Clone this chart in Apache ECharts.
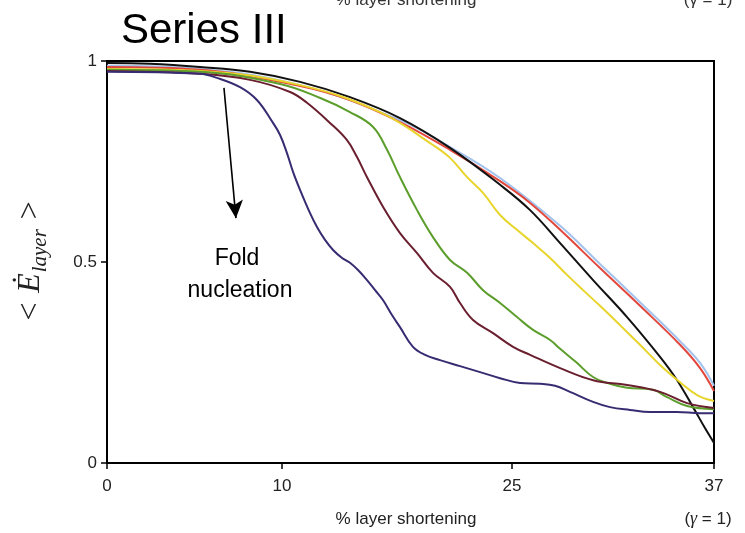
<!DOCTYPE html>
<html>
<head>
<meta charset="utf-8">
<script src="https://cdn.jsdelivr.net/npm/echarts@6/dist/echarts.min.js"></script>
<style>html,body{margin:0;padding:0;background:#fff}#c{width:745px;height:533px}</style>
</head>
<body>
<div id="c"></div>
<script>
// x is position along the axis (0..37 scale), y is <E_layer>
const xTickAt = [0, 10.67, 24.69, 37];
const xTickLabels = ['0', '10', '25', '37'];
const yTickLabels = ['0', '0.5', '1'];

const seriesNames = ['blue', 'red', 'black', 'yellow', 'green', 'maroon', 'purple'];

const blueData = [[0,0.988],[5.67,0.980],[11.77,0.940],[17.86,0.853],[20.91,0.786],[23.96,0.709],[27.62,0.590],[30.05,0.495],[32.49,0.400],[34.93,0.303],[36.15,0.249],[37,0.192]];
const redData = [[0,0.985],[5.67,0.978],[11.77,0.938],[14.81,0.903],[17.86,0.848],[20.91,0.779],[23.96,0.701],[25.79,0.647],[27.62,0.580],[30.05,0.485],[32.49,0.391],[34.93,0.294],[36.15,0.236],[37,0.179]];
const blackData = [[0,0.995],[2.62,0.993],[5.67,0.985],[8.72,0.973],[11.77,0.948],[14.81,0.910],[17.86,0.858],[20.91,0.784],[23.96,0.692],[25.79,0.629],[27.62,0.547],[29.63,0.455],[31.70,0.363],[33.71,0.264],[34.75,0.206],[35.72,0.139],[36.45,0.087],[37,0.050]];
const yellowData = [[0,0.980],[5.67,0.975],[11.77,0.940],[16.64,0.873],[19.87,0.791],[20.91,0.759],[21.95,0.711],[22.92,0.672],[23.96,0.617],[24.99,0.580],[25.97,0.547],[27.01,0.510],[28.04,0.468],[29.02,0.430],[30.05,0.391],[31.27,0.343],[32.49,0.294],[33.71,0.244],[34.93,0.201],[35.97,0.169],[37,0.154]];
const greenData = [[0,0.978],[5.67,0.973],[10.55,0.943],[13.0,0.908],[14.81,0.873],[16.22,0.836],[17.07,0.779],[17.86,0.711],[18.90,0.629],[19.87,0.562],[20.91,0.505],[21.95,0.473],[22.92,0.430],[23.96,0.398],[24.99,0.363],[25.97,0.331],[27.01,0.306],[27.62,0.284],[28.59,0.251],[29.63,0.214],[30.66,0.197],[31.70,0.187],[33.28,0.182],[34.14,0.164],[35.36,0.142],[37,0.134]];
const maroonData = [[0,0.975],[5.67,0.968],[8.72,0.953],[11.16,0.923],[12.19,0.896],[13.59,0.846],[14.63,0.803],[15.24,0.761],[15.85,0.711],[16.83,0.637],[17.86,0.572],[18.90,0.522],[19.87,0.473],[20.91,0.438],[21.52,0.398],[22.31,0.356],[23.53,0.323],[24.75,0.289],[25.79,0.269],[27.62,0.236],[29.63,0.206],[31.70,0.194],[33.71,0.177],[35.36,0.149],[37,0.137]];
const purpleData = [[0,0.973],[5.67,0.968],[6.71,0.958],[8.11,0.935],[9.14,0.903],[10.12,0.846],[10.55,0.816],[10.97,0.771],[11.34,0.724],[11.77,0.679],[12.37,0.622],[12.80,0.587],[13.29,0.555],[13.78,0.530],[14.33,0.510],[14.81,0.498],[15.30,0.480],[15.85,0.455],[16.34,0.430],[16.83,0.405],[17.37,0.368],[17.86,0.338],[18.65,0.289],[19.39,0.269],[20.30,0.256],[21.52,0.241],[22.74,0.226],[23.96,0.211],[25.18,0.199],[26.40,0.197],[27.31,0.192],[28.22,0.177],[29.63,0.152],[30.66,0.139],[31.88,0.132],[33.10,0.127],[34.75,0.127],[36.15,0.124],[37,0.124]];

const arrowFrom = [7.13, 0.933];
const arrowTo = [7.86, 0.609];

const colors = {blue:'#a3c2ec', red:'#e2473c', black:'#111111', yellow:'#e8d52c', green:'#5c9e2c', maroon:'#6a1f2f', purple:'#372c72'};
const dataMap = {blue:blueData, red:redData, black:blackData, yellow:yellowData, green:greenData, maroon:maroonData, purple:purpleData};

const chart = echarts.init(document.getElementById('c'));
const sans = '"Liberation Sans", Arial, sans-serif';
const serif = '"Liberation Serif", "Times New Roman", serif';

function nearestLabel(v){
  let best = 0, d = 1e9;
  xTickAt.forEach((t,i)=>{ if (Math.abs(t-v) < d){ d = Math.abs(t-v); best = i; } });
  return d < 0.01 ? xTickLabels[best] : '';
}

const series = seriesNames.map(n => ({
  name: n, type: 'line', data: dataMap[n], smooth: 0.4, symbol: 'none',
  lineStyle: {color: colors[n], width: 2}, z: 3
}));
series.push({
  type: 'line', data: [], markLine: {
    silent: true, symbol: ['none', 'arrow'], symbolSize: [13, 18],
    lineStyle: {color: '#000', width: 1.6, type: 'solid'}, label: {show: false},
    data: [[{coord: arrowFrom}, {coord: arrowTo}]]
  }
});

chart.setOption({
  animation: false,
  backgroundColor: '#fff',
  grid: {left: 107, right: 31, top: 61, bottom: 70, show: true, borderColor: '#000', borderWidth: 2, backgroundColor: 'transparent'},
  xAxis: {
    type: 'value', min: 0, max: 37,
    axisLine: {show: true, lineStyle: {color: '#000', width: 2}},
    axisTick: {show: true, customValues: xTickAt, length: 6, lineStyle: {color: '#000', width: 1.5}},
    axisLabel: {customValues: xTickAt, formatter: v => nearestLabel(v), color: '#222', fontSize: 17, fontFamily: sans, margin: 15},
    splitLine: {show: false}
  },
  yAxis: {
    type: 'value', min: 0, max: 1, interval: 0.5,
    axisLine: {show: true, lineStyle: {color: '#000', width: 2}},
    axisTick: {show: true, length: 6, lineStyle: {color: '#000', width: 1.5}},
    axisLabel: {formatter: v => yTickLabels[Math.round(v * 2)], color: '#222', fontSize: 17, fontFamily: sans, margin: 10},
    splitLine: {show: false}
  },
  series: series,
  graphic: [
    {type: 'text', left: 121, top: 10, style: {text: 'Series III', fontSize: 42, fontFamily: sans, fill: '#000'}},
    {type: 'text', x: 406, y: 0, style: {text: '% layer shortening', fontSize: 17, fontFamily: sans, fill: '#333', align: 'center', verticalAlign: 'middle'}},
    {type: 'text', x: 708, y: 0, style: {text: '(γ = 1)', fontSize: 17, fontFamily: sans, fill: '#333', align: 'center', verticalAlign: 'middle'}},
    {type: 'text', x: 406, y: 519, style: {text: '% layer shortening', fontSize: 17, fontFamily: sans, fill: '#222', align: 'center', verticalAlign: 'middle'}},
    {type: 'text', x: 708, y: 519, style: {text: '{p|(}{g|γ}{p| = 1)}', fontSize: 17, fontFamily: sans, fill: '#222', align: 'center', verticalAlign: 'middle',
      rich: {p: {fontSize: 17, fontFamily: sans, fill: '#222'}, g: {fontSize: 18, fontFamily: serif, fontStyle: 'italic', fill: '#222'}}}},
    {type: 'text', x: 237, y: 259, style: {text: 'Fold', fontSize: 23, fontFamily: sans, fill: '#000', align: 'center', verticalAlign: 'middle'}},
    {type: 'text', x: 240, y: 291, style: {text: 'nucleation', fontSize: 23, fontFamily: sans, fill: '#000', align: 'center', verticalAlign: 'middle'}},
    {type: 'text', x: 32, y: 261, rotation: Math.PI / 2, style: {
      text: '{m|< Ė}{s|layer}{m| >}', align: 'center', verticalAlign: 'middle', fill: '#222',
      rich: {
        m: {fontSize: 32, fontFamily: serif, fontStyle: 'italic', fill: '#222', lineHeight: 34, verticalAlign: 'top'},
        s: {fontSize: 21, fontFamily: serif, fontStyle: 'italic', fill: '#222', lineHeight: 23, padding: [15, 0, 0, 1], verticalAlign: 'top'}
      }
    }}
  ]
});
</script>
</body>
</html>
